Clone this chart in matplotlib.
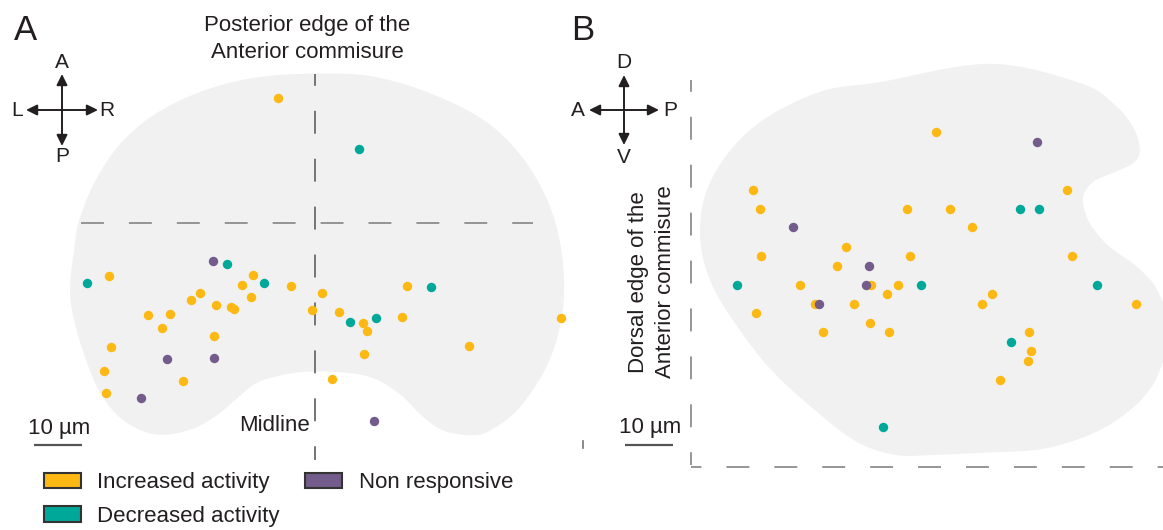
import numpy as np
import matplotlib
matplotlib.use("Agg")
import matplotlib.pyplot as plt
from matplotlib.patches import Patch, FancyArrowPatch
from matplotlib.lines import Line2D

plt.rcParams['font.family'] = ['Liberation Sans', 'DejaVu Sans']
plt.rcParams['lines.scale_dashes'] = False

# colours
c_inc = '#FDB813'
c_dec = '#00A89A'
c_non = '#735B8C'
c_blob = '#f0f1f0'
c_text = '#231f20'

# ---- panel A: horizontal plane (um, origin = midline x posterior edge of AC)
a_inc_x = [-7.6, -42.8, -12.8, -15.1, -4.9, 1.5, 19.3, -23.9, -25.7, -20.6, -17.4, -16.8,
           -13.3, -34.6, -30.1, -31.7, -0.5, 5.1, 10.1, 10.9, 18.3, 51.3, -21.0, -42.4,
           10.4, 32.2, -43.9, -27.3, -43.4, 3.6]
a_inc_y = [26.0, -11.1, -10.8, -12.9, -13.1, -14.6, -13.1, -14.6, -16.1, -17.0, -17.4, -17.9,
           -15.5, -19.2, -18.9, -21.8, -18.2, -18.5, -20.9, -22.6, -19.5, -19.8, -23.5, -25.9,
           -27.2, -25.7, -30.9, -32.9, -35.4, -32.4]
a_dec_x = [9.2, -18.2, -47.3, -10.6, 24.2, 7.3, 12.9]
a_dec_y = [15.4, -8.6, -12.6, -12.4, -13.3, -20.7, -19.8]
a_non_x = [-21.2, -30.8, -21.0, -36.2, 12.3]
a_non_y = [-8.0, -28.3, -28.1, -36.4, -41.2]

# outline of the nucleus in panel A
a_out_x = [0.0, 11.6, 23.1, 34.7, 42.4, 47.8, 50.9, 52.0, 50.9, 47.8, 42.4, 37.0, 33.1, 27.0,
           22.4, 17.7, 11.6, 3.9, -3.9, -11.6, -16.2, -20.0, -24.7, -30.1, -34.7, -40.1,
           -44.7, -48.2, -50.5, -50.9, -50.1, -49.0, -45.5, -40.1, -32.4, -22.4, -11.6]
a_out_y = [31.1, 30.6, 27.4, 21.8, 14.8, 6.3, -2.8, -13.4, -22.6, -31.0, -38.8, -43.0, -44.2,
           -43.3, -40.2, -35.6, -32.1, -31.0, -31.2, -33.1, -36.6, -39.8, -42.6, -44.0, -43.7,
           -40.9, -35.3, -26.8, -18.3, -12.7, -5.7, 0.7, 9.1, 16.9, 23.2, 27.8, 30.4]

# ---- panel B: sagittal plane (um, origin = dorsal edge of AC)
b_inc_x = [51.0, 13.0, 78.3, 14.3, 45.0, 53.9, 58.6, 32.2, 14.5, 45.6, 79.3, 30.5, 22.8, 37.6,
           43.2, 40.9, 62.8, 25.8, 34.0, 60.7, 92.8, 13.6, 37.2, 27.6, 41.3, 70.4, 70.8, 70.3,
           64.4]
b_inc_y = [69.8, 57.8, 57.8, 53.8, 53.8, 53.8, 49.9, 45.9, 44.0, 44.0, 44.0, 41.9, 38.0, 38.0,
           38.0, 36.0, 36.0, 34.0, 34.0, 34.0, 34.0, 32.0, 30.1, 28.1, 28.1, 28.1, 24.1, 22.1,
           18.1]
b_dec_x = [68.6, 72.5, 9.6, 48.0, 84.5, 66.7, 40.0]
b_dec_y = [53.8, 53.8, 38.0, 38.0, 38.0, 26.0, 8.3]
b_non_x = [72.0, 21.2, 37.1, 36.5, 26.7]
b_non_y = [67.7, 49.9, 41.9, 38.0, 34.0]

b_out_x = [62.3, 81.0, 87.9, 92.1, 93.5, 92.1, 87.9, 83.8, 81.7, 82.3, 84.0, 87.3, 92.9, 97.1,
           99.8, 97.7, 95.0, 90.8, 85.2, 78.3, 71.3, 61.3, 50.4, 42.7, 35.0, 27.3, 17.1, 9.4,
           4.0, 1.9, 3.1, 7.9, 15.6, 27.3, 39.4]
b_out_y = [84.0, 80.0, 75.8, 70.8, 66.0, 63.3, 61.3, 59.4, 56.3, 52.5, 49.4, 45.8, 41.7, 36.9,
           28.5, 20.2, 15.4, 11.3, 7.7, 5.0, 3.5, 3.0, 2.5, 2.5, 5.0, 10.6, 19.8, 29.6,
           38.8, 47.9, 57.1, 65.6, 72.7, 78.3, 80.2]

legend_labels = ['Increased activity', 'Decreased activity', 'Non responsive']


def smooth_closed(xs, ys, n=24):
    # periodic Catmull-Rom through the outline points
    p = np.column_stack([xs, ys])
    m = len(p)
    t = np.linspace(0, 1, n, endpoint=False)[:, None]
    seg = []
    for i in range(m):
        p0, p1, p2, p3 = p[i - 1], p[i], p[(i + 1) % m], p[(i + 2) % m]
        seg.append(0.5 * (2 * p1 + (-p0 + p2) * t + (2 * p0 - 5 * p1 + 4 * p2 - p3) * t ** 2
                          + (-p0 + 3 * p1 - 3 * p2 + p3) * t ** 3))
    s = np.vstack(seg)
    return s[:, 0], s[:, 1]


W, H = 1163, 530
fig = plt.figure(figsize=(W / 100, H / 100), dpi=100)


def fp(x, y):
    # pixel position -> figure fraction (layout only)
    return x / W, 1 - y / H


axA = fig.add_axes([0, 0, 580 / W, 1])
axB = fig.add_axes([580 / W, 0, 583 / W, 1])
axA.set_xlim(-65.52, 55.31)
axA.set_ylim(-63.96, 46.46)
axB.set_xlim(-23.125, 98.33)
axB.set_ylim(-13.125, 97.29)
for ax in (axA, axB):
    ax.axis('off')

# dash pattern in points: 23 px on, 25 px off
on, off = 16.5, 18.0
ms = 46

# panel A
x, y = smooth_closed(a_out_x, a_out_y)
axA.fill(x, y, color=c_blob, lw=0, zorder=0)
axA.plot([-48.6, 45.5], [0, 0], color='#8d8d8d', lw=1.3, ls=(0, (on, off)), zorder=1)
axA.plot([0, 0], [31.0, -49.4], color='#6a6a6a', lw=1.3, ls=(8.0, (on, off)), zorder=1)
axA.scatter(a_inc_x, a_inc_y, s=ms, color=c_inc, lw=0, zorder=3)
axA.scatter(a_dec_x, a_dec_y, s=ms, color=c_dec, lw=0, zorder=3)
axA.scatter(a_non_x, a_non_y, s=ms, color=c_non, lw=0, zorder=3)
axA.plot([-58.4, -48.4], [-46.25, -46.25], color='#555555', lw=1.6, solid_capstyle='butt')

# panel B
x, y = smooth_closed(b_out_x, b_out_y)
axB.fill(x, y, color=c_blob, lw=0, zorder=0)
axB.plot([0, 0], [80.6, 0.4], color='#8d8d8d', lw=1.3, ls=(8.0, (on, off)), zorder=1)
axB.plot([0, 100], [0, 0], color='#8d8d8d', lw=1.3, ls=(9.0, (on, off)), zorder=1)
axB.scatter(b_inc_x, b_inc_y, s=ms, color=c_inc, lw=0, zorder=3)
axB.scatter(b_dec_x, b_dec_y, s=ms, color=c_dec, lw=0, zorder=3)
axB.scatter(b_non_x, b_non_y, s=ms, color=c_non, lw=0, zorder=3)
axB.plot([-13.75, -3.75], [4.58, 4.58], color='#555555', lw=1.6, solid_capstyle='butt')

# texts
fs = 16
fig.text(*fp(25, 30), 'A', fontsize=25, color=c_text, ha='center', va='center')
fig.text(*fp(583, 30), 'B', fontsize=25, color=c_text, ha='center', va='center')
fig.text(*fp(307, 39), 'Posterior edge of the\nAnterior commisure', fontsize=fs,
         color=c_text, ha='center', va='center', linespacing=1.32)
fig.text(*fp(310, 431), 'Midline', fontsize=fs, color=c_text, ha='right', va='baseline')
fig.text(*fp(59, 434), '10 µm', fontsize=fs, color=c_text, ha='center', va='baseline')
fig.text(*fp(650, 433), '10 µm', fontsize=fs, color=c_text, ha='center', va='baseline')
fig.text(*fp(652, 282), 'Dorsal edge of the\nAnterior commisure', fontsize=fs,
         color=c_text, ha='center', va='center', rotation=90, linespacing=1.32)


def compass(cx, cy, half_w, half_h, labels, dxl, dyl):
    ap = dict(arrowstyle='<|-|>,head_length=0.65,head_width=0.32', lw=1.4,
              color=c_text, shrinkA=0, shrinkB=0, mutation_scale=10)
    fig.add_artist(FancyArrowPatch(fp(cx, cy - half_h), fp(cx, cy + half_h),
                                   transform=fig.transFigure, **ap))
    fig.add_artist(FancyArrowPatch(fp(cx - half_w, cy), fp(cx + half_w, cy),
                                   transform=fig.transFigure, **ap))
    top, bottom, left, right = labels
    kw = dict(fontsize=15, color=c_text, ha='center', va='center')
    fig.text(*fp(cx, cy - dyl), top, **kw)
    fig.text(*fp(cx, cy + dyl), bottom, **kw)
    fig.text(*fp(cx - dxl, cy), left, **kw)
    fig.text(*fp(cx + dxl, cy), right, **kw)


compass(62, 110, 36, 36, ('A', 'P', 'L', 'R'), 45, 47)
compass(624, 110, 35, 35, ('D', 'V', 'A', 'P'), 46, 48)

# stray mark between panels
fig.add_artist(Line2D(*zip(fp(583, 441), fp(583, 448)), color='#777777', lw=1.2))

# legend
handles = [Patch(facecolor=c, edgecolor='#333333', lw=1.5) for c in (c_inc, c_dec, c_non)]
fig.legend(handles, legend_labels, ncol=2, loc='upper left', bbox_to_anchor=fp(44, 472),
           frameon=False, fontsize=fs, handlelength=1.65, handleheight=0.68,
           handletextpad=0.75, columnspacing=1.15, labelspacing=0.58, borderpad=0,
           borderaxespad=0, labelcolor=c_text)

fig.savefig('out.png', dpi=100)
